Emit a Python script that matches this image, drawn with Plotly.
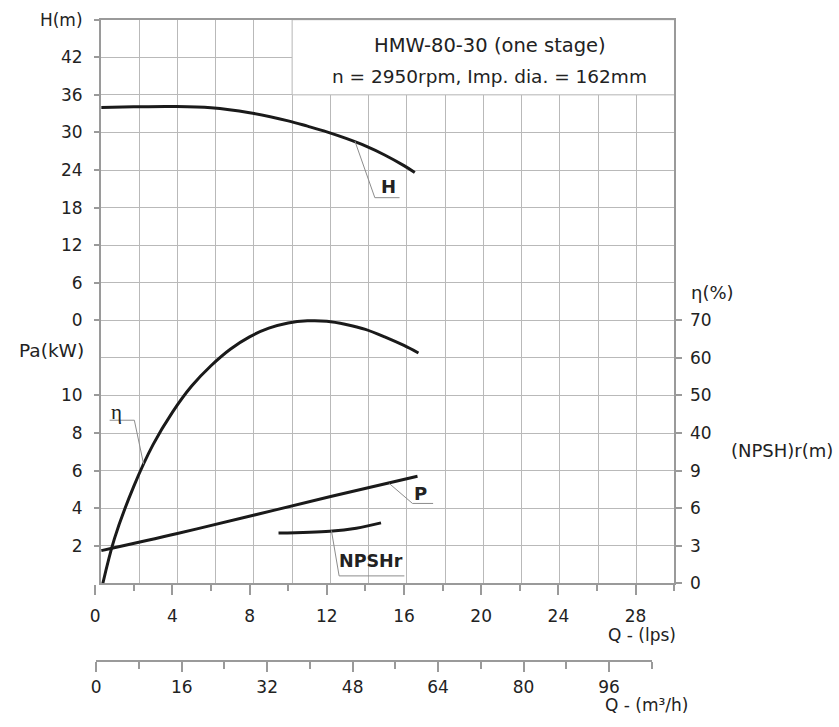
import plotly.graph_objects as go

# ---- pump performance data (flow Q in l/s) ----
q_head = [0.32, 2, 4, 6, 8, 10, 11, 12, 13, 14, 15, 16, 16.56]
head_m = [34.0, 34.1, 34.15, 33.95, 33.15, 31.85, 31.0, 30.1, 29.05, 27.85, 26.4, 24.7, 23.6]

q_eff = [0.4, 1, 2, 3, 4, 5, 6, 7, 8, 9, 10, 11, 12, 13, 14, 15, 16, 16.75]
eff_pct = [0, 11.9, 25.8, 36.9, 45.5, 52.5, 57.9, 62.3, 65.6, 67.9, 69.3, 69.85, 69.75, 68.9, 67.6, 65.6, 63.3, 61.3]

q_power = [0.32, 4.26, 8.2, 12.2, 16.7]
power_kw = [1.74, 2.65, 3.62, 4.62, 5.70]

q_npsh = [9.5, 12.16, 13.53, 14.81]
npsh_m = [4.01, 4.16, 4.40, 4.82]

# ---- tick labels ----
head_ticks = [0, 6, 12, 18, 24, 30, 36, 42, 48]
head_text = ["0", "6", "12", "18", "24", "30", "36", "42", "H(m)"]
power_ticks = [2, 4, 6, 8, 10]
eff_ticks = [40, 50, 60, 70]
npsh_ticks = [0, 3, 6, 9]

W, H = 839, 727
FONT = "DejaVu Sans"
TXT = "#222222"
GRID = "#b9b9b9"
FRAME = "#9a9a9a"
CURVE = "#1a1a1a"
LEADER = "#8c8c8c"


def px(x):
    return x / W


def py(y):
    return 1 - y / H


plot_x = [px(96.5), px(673.5)]
plot_y = [py(589.5), py(10)]

fig = go.Figure()

line = dict(color=CURVE, width=3, shape="spline", smoothing=1.0)
fig.add_trace(go.Scatter(x=q_head, y=head_m, xaxis="x2", yaxis="y2", mode="lines",
                         line=line, hoverinfo="skip", showlegend=False))
fig.add_trace(go.Scatter(x=q_power, y=power_kw, xaxis="x2", yaxis="y3", mode="lines",
                         line=line, hoverinfo="skip", showlegend=False))
fig.add_trace(go.Scatter(x=q_eff, y=eff_pct, xaxis="x2", yaxis="y4", mode="lines",
                         line=line, hoverinfo="skip", showlegend=False))
fig.add_trace(go.Scatter(x=q_npsh, y=npsh_m, xaxis="x2", yaxis="y5", mode="lines",
                         line=line, hoverinfo="skip", showlegend=False))
# empty series so the m3/h scale gets its own subplot and is drawn
fig.add_trace(go.Scatter(x=[], y=[], xaxis="x3", yaxis="y2", mode="lines",
                         hoverinfo="skip", showlegend=False))

tickfont = dict(family=FONT, size=17, color=TXT)

grid_axis = dict(range=[0, 15], tickmode="linear", tick0=0, dtick=1, showgrid=True,
                 gridcolor=GRID, gridwidth=1, showline=True, mirror=True,
                 linecolor=FRAME, linewidth=2, ticks="", showticklabels=False,
                 zeroline=False, fixedrange=True)

left_y = dict(anchor="free", position=px(96.5), side="left", showgrid=False,
              zeroline=False, showline=False, ticks="outside", ticklen=7,
              tickcolor=FRAME, tickwidth=1.5, tickfont=tickfont,
              ticklabelstandoff=8, ticklabeloverflow="allow",
              tickmode="array", fixedrange=True)
right_y = dict(anchor="free", position=px(673.5), side="right", showgrid=False,
               zeroline=False, showline=False, ticks="outside", ticklen=7,
               tickcolor=FRAME, tickwidth=1.5, tickfont=tickfont,
               ticklabelstandoff=4, ticklabeloverflow="allow", tickmode="array",
               overlaying="y2", fixedrange=True)

fig.update_layout(
    width=W, height=H,
    margin=dict(l=0, r=0, t=0, b=0),
    paper_bgcolor="white", plot_bgcolor="rgba(0,0,0,0)",
    font=dict(family=FONT, color=TXT),
    xaxis=dict(domain=plot_x, anchor="y", **grid_axis),
    yaxis=dict(domain=plot_y, anchor="x", **grid_axis),
    xaxis2=dict(domain=[px(90.5), px(673.4)], range=[-0.01, 30.01], anchor="free",
                position=py(590.5), showgrid=False, zeroline=False, showline=False,
                ticks="outside", ticklen=10, tickcolor=FRAME, tickwidth=1.5,
                tickmode="linear", tick0=0, dtick=4, tickfont=tickfont,
                ticklabelstandoff=6,
                minor=dict(tick0=0, dtick=2, ticks="outside", ticklen=6,
                           tickcolor=FRAME, tickwidth=1.5, showgrid=False),
                fixedrange=True),
    xaxis3=dict(domain=[px(91.7), px(650.7)], range=[-0.02, 104.02], anchor="free",
                position=py(669), showgrid=False, zeroline=False, showline=True,
                linecolor=FRAME, linewidth=2, ticks="outside", ticklen=10,
                tickcolor=FRAME, tickwidth=1.5, tickmode="linear", tick0=0, dtick=16,
                tickfont=tickfont, ticklabelstandoff=1,
                minor=dict(tick0=0, dtick=8, ticks="outside", ticklen=7,
                           tickcolor=FRAME, tickwidth=1.5, showgrid=False),
                fixedrange=True),
    yaxis2=dict(domain=plot_y, range=[-42, 48], tickvals=head_ticks,
                ticktext=head_text, **left_y),
    yaxis3=dict(range=[0, 30], tickvals=power_ticks,
                ticktext=[str(v) for v in power_ticks], overlaying="y2", **left_y),
    yaxis4=dict(range=[0, 150], tickvals=eff_ticks,
                ticktext=[str(v) for v in eff_ticks], **right_y),
    yaxis5=dict(range=[0, 45], tickvals=npsh_ticks,
                ticktext=[str(v) for v in npsh_ticks], **right_y),
)

# white heading panel in the top-right corner of the grid
fig.add_shape(type="rect", xref="x", yref="y", x0=5, x1=15, y0=13, y1=15,
              fillcolor="white", line=dict(color=GRID, width=1), layer="between")

# leader lines from each curve to its label
leaders = [
    ("y2", [(13.46, 28.6), (14.49, 19.58), (15.77, 19.58)]),
    ("y3", [(15.24, 5.31), (16.44, 4.25), (17.51, 4.25)]),
    ("y5", [(12.24, 4.22), (12.64, 0.59), (16.02, 0.59)]),
    ("y4", [(2.51, 31.7), (2.03, 43.4), (0.75, 43.4)]),
]
for yref, pts in leaders:
    path = "M " + " L ".join(f"{x},{y}" for x, y in pts)
    fig.add_shape(type="path", xref="x2", yref=yref, path=path,
                  line=dict(color=LEADER, width=1))


def note(text, x, y, xref="paper", yref="paper", size=17, xanchor="center",
         yanchor="middle", family=FONT, bold=False):
    fig.add_annotation(text=f"<b>{text}</b>" if bold else text, x=x, y=y,
                       xref=xref, yref=yref, showarrow=False, xanchor=xanchor,
                       yanchor=yanchor, borderpad=0,
                       font=dict(family=family, size=size, color=TXT))


# heading
note("HMW-80-30 (one stage)", px(487.5), py(36), size=19.5)
note("n = 2950rpm, Imp. dia. = 162mm", px(487.5), py(68), size=18.5)

# axis captions
note("Pa(kW)", px(80), py(350), xanchor="right", size=18.5)
note("η(%)", px(689), py(290), xanchor="left", size=18)
note("(NPSH)r(m)", px(729), py(453), xanchor="left", size=18)
note("Q - (lps)", px(676), py(643), xanchor="right")
note("Q - (m³/h)", px(688), py(715), xanchor="right")

# curve labels
note("H", 15.21, 21.38, xref="x2", yref="y2", size=18, bold=True)
note("P", 16.87, 4.80, xref="x2", yref="y3", size=18, bold=True)
note("NPSHr", 14.3, 1.76, xref="x2", yref="y5", size=17.5, bold=True)
note("η", 1.12, 45.6, xref="x2", yref="y4", size=21, family="Liberation Serif")

fig.write_html("out.html")
